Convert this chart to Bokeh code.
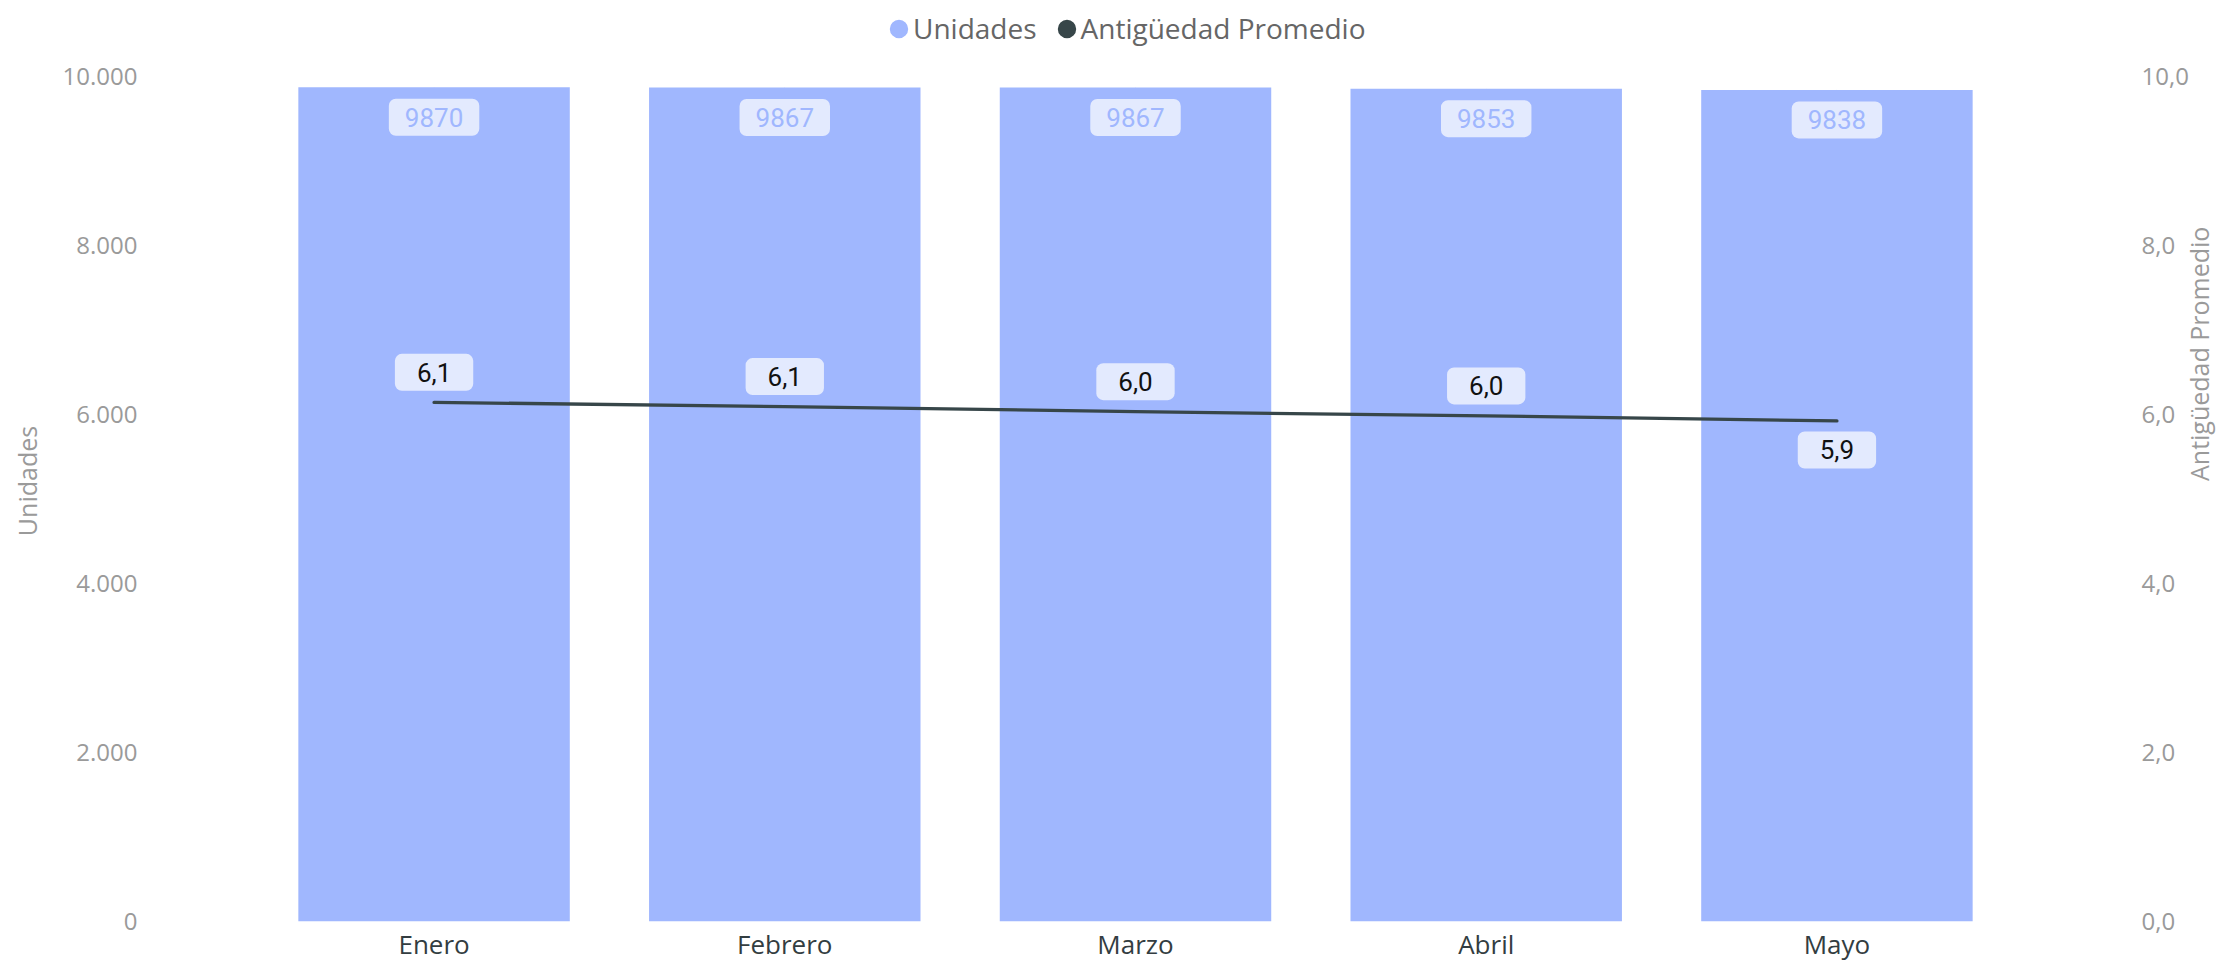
import math
from bokeh.plotting import figure
from bokeh.models import (ColumnDataSource, FactorRange, Range1d, LinearAxis,
                          FixedTicker, Legend, LegendItem, LabelSet)
from bokeh.core.properties import value
from bokeh.embed import file_html
from bokeh.resources import INLINE

# ---------------- data ----------------
months = ["Enero", "Febrero", "Marzo", "Abril", "Mayo"]
unidades = [9870, 9867, 9867, 9853, 9838]
antiguedad = [6.14, 6.09, 6.03, 5.98, 5.92]

left_ticks = [0, 2000, 4000, 6000, 8000, 10000]
left_tick_labels = ["0", "2.000", "4.000", "6.000", "8.000", "10.000"]
right_ticks = [0, 2, 4, 6, 8, 10]
right_tick_labels = ["0,0", "2,0", "4,0", "6,0", "8,0", "10,0"]

unidades_labels = [str(v) for v in unidades]
antiguedad_labels = [f"{v:.1f}".replace(".", ",") for v in antiguedad]

# label placement (style): last line label is drawn below the point
line_label_side = ["above", "above", "above", "above", "below"]

BAR = "#A0B7FE"
LINE = "#374649"
BOX = "#E3EAFE"
FONT = "Open Sans"
LABEL_FONT = "Roboto"
GRAY = "#9a9a9a"

offsets = [-30 if s == "above" else 29 for s in line_label_side]

src = ColumnDataSource(dict(month=months, unidades=unidades, ulabel=unidades_labels,
                            ant=antiguedad, alabel=antiguedad_labels, aoff=offsets,
                            base=[0] * len(months)))

# the plot area spans the full height; the y ranges put 0 and 10000 (0 and 10)
# at the same pixel rows as the reference, leaving room for legend and month names
p = figure(width=2235, height=961,
           x_range=FactorRange(factors=months, range_padding=0.3228,
                               range_padding_units="absolute"),
           y_range=Range1d(-477, 10896),
           output_backend="svg", toolbar_location=None,
           min_border_left=145, min_border_right=107,
           min_border_top=0, min_border_bottom=0)
p.outline_line_color = None
p.xgrid.visible = False
p.ygrid.visible = False
p.background_fill_color = "white"
p.border_fill_color = "white"

# left axis
ya = p.yaxis[0]
ya.ticker = FixedTicker(ticks=left_ticks)
ya.major_label_overrides = dict(zip(left_ticks, left_tick_labels))
ya.axis_line_color = None
ya.major_tick_line_color = None
ya.minor_tick_line_color = None
ya.major_tick_out = 0
ya.major_tick_in = 0
ya.major_label_standoff = 8
ya.major_label_text_font = FONT
ya.major_label_text_font_size = "24px"
ya.major_label_text_color = GRAY
ya.axis_label = "Unidades"
ya.axis_label_text_font = FONT
ya.axis_label_text_font_size = "25px"
ya.axis_label_text_font_style = "normal"
ya.axis_label_text_color = GRAY
ya.axis_label_standoff = 16

# right axis
p.extra_y_ranges = {"ant": Range1d(-0.477, 10.896)}
ra = LinearAxis(y_range_name="ant")
ra.ticker = FixedTicker(ticks=right_ticks)
ra.major_label_overrides = dict(zip(right_ticks, right_tick_labels))
ra.axis_line_color = None
ra.major_tick_line_color = None
ra.minor_tick_line_color = None
ra.major_tick_out = 0
ra.major_tick_in = 0
ra.major_label_standoff = 16
ra.major_label_text_font = FONT
ra.major_label_text_font_size = "24px"
ra.major_label_text_color = GRAY
ra.axis_label = "Antigüedad Promedio"
ra.axis_label_text_font = FONT
ra.axis_label_text_font_size = "25px"
ra.axis_label_text_font_style = "normal"
ra.axis_label_text_color = GRAY
ra.axis_label_standoff = 7
ra.axis_label_orientation = math.pi / 2
p.add_layout(ra, "right")

# x axis: category names drawn as labels right under the bars
p.xaxis.visible = False
xlabels = LabelSet(x="month", y="base", text="month", source=src,
                   text_align="center", text_baseline="alphabetic", y_offset=-33,
                   text_font=value(FONT), text_font_size="26px",
                   text_color="#333d41")
p.add_layout(xlabels)

# bars
p.vbar(x="month", top="unidades", width=0.774, fill_color=BAR, line_color=None, source=src)

# line
p.line(x="month", y="ant", y_range_name="ant", line_color=LINE, line_width=3.3,
       line_cap="round", line_join="round", source=src)

# bar labels
p.text(x="month", y="unidades", text="ulabel", source=src,
       text_align="center", text_baseline="middle", y_offset=30,
       text_font=value(LABEL_FONT), text_font_size="26px", text_color=BAR,
       background_fill_color=BOX, border_radius=7, padding=(16, 9))

# line labels
p.text(x="month", y="ant", text="alabel", source=src, y_range_name="ant",
       text_align="center", text_baseline="middle", y_offset="aoff",
       text_font=value(LABEL_FONT), text_font_size="26px", text_color="#111111",
       background_fill_color=BOX, border_radius=7, padding=(22, 9))

# legend proxies: sub-pixel round ellipses on the series (only their legend swatch shows)
r1 = p.ellipse(x="month", y="unidades", source=src, width=0.4, height=0.4,
               width_units="screen", height_units="screen",
               fill_color=BAR, line_color=None)
r2 = p.ellipse(x="month", y="ant", y_range_name="ant", source=src, width=0.4, height=0.4,
               width_units="screen", height_units="screen",
               fill_color=LINE, line_color=None)
legend = Legend(items=[LegendItem(label="Unidades", renderers=[r1]),
                       LegendItem(label="Antigüedad Promedio", renderers=[r2])],
                orientation="horizontal", location=(742, 914), margin=0,
                glyph_width=23, glyph_height=23, label_standoff=3, spacing=18,
                padding=0, border_line_color=None,
                background_fill_alpha=0,
                label_text_font=FONT, label_text_font_size="28px",
                label_text_color="#666666")
p.add_layout(legend, "center")

open("out.html", "w").write(file_html(p, INLINE))
